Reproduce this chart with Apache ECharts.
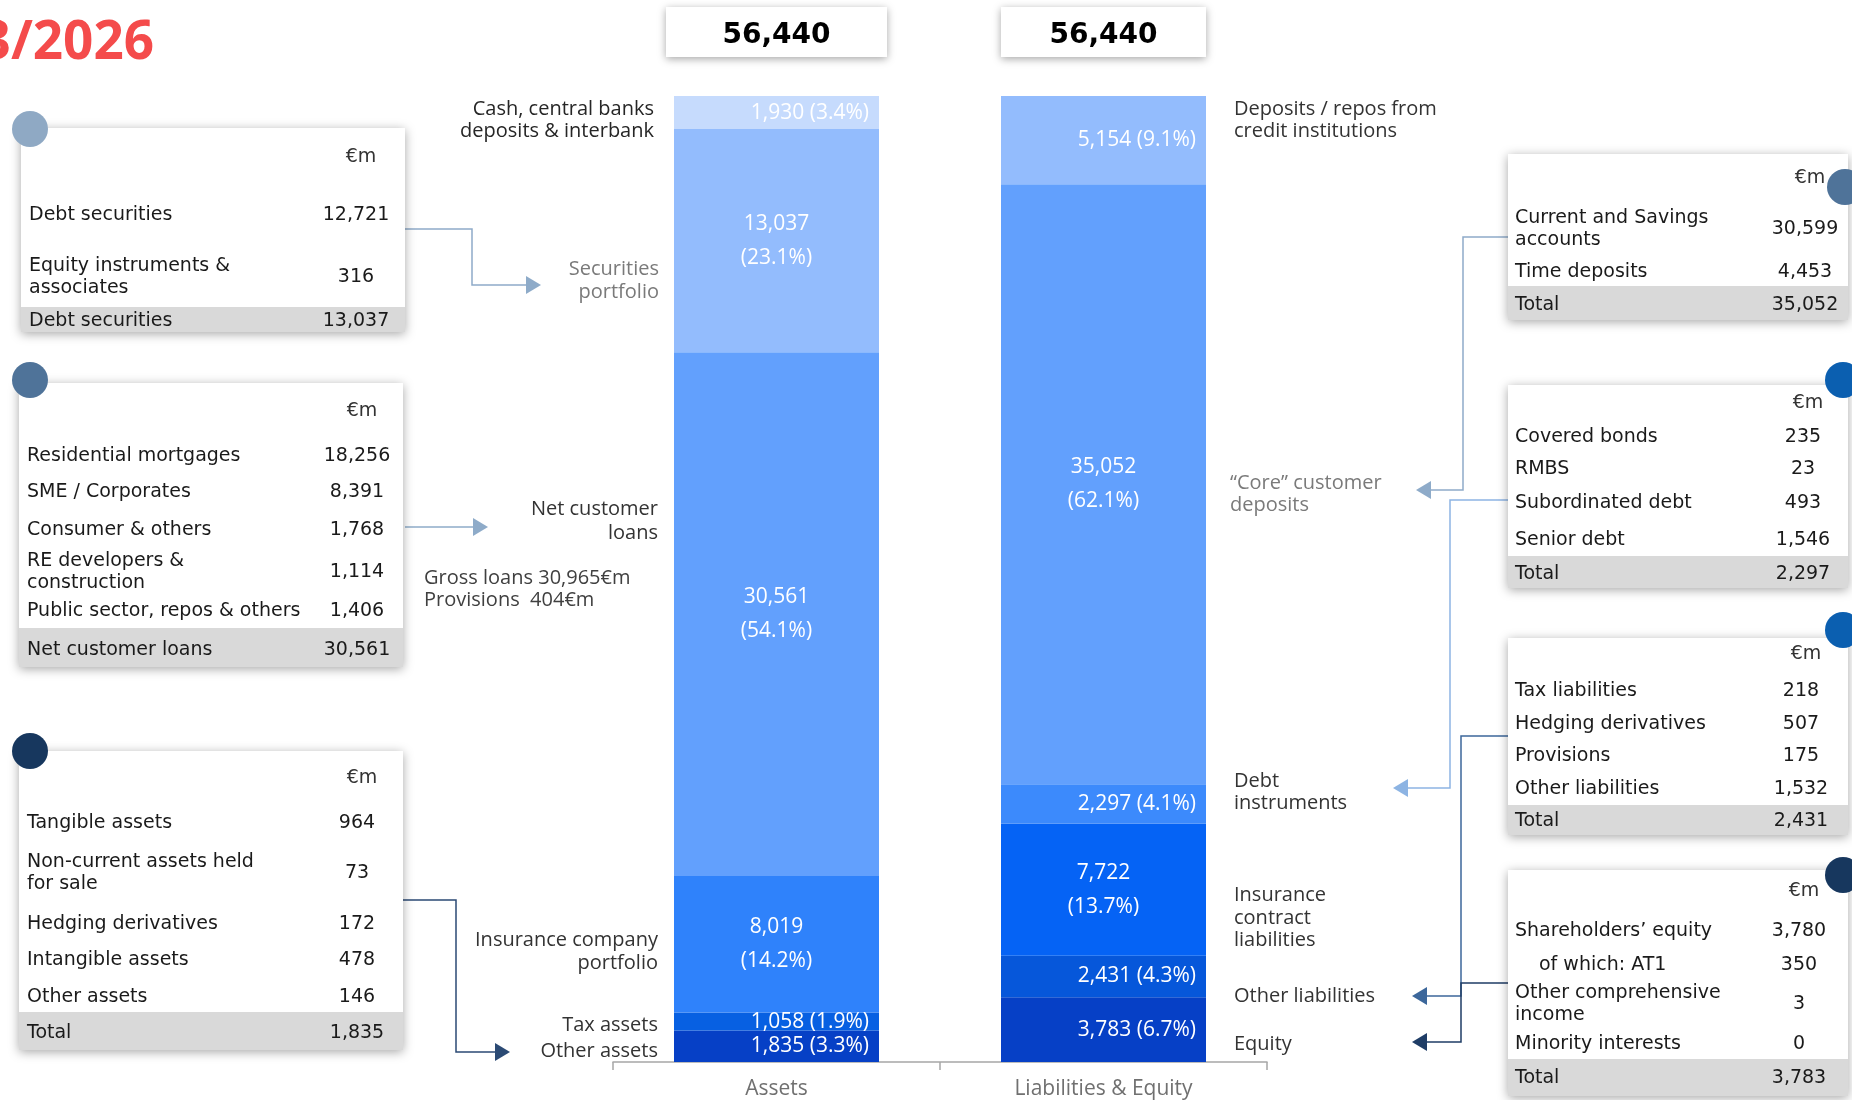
<!DOCTYPE html>
<html>
<head>
<meta charset="utf-8">
<script src="https://cdn.jsdelivr.net/npm/echarts@6/dist/echarts.min.js"></script>
<style>
  html, body { margin: 0; padding: 0; background: #fff; }
  #chart { width: 1852px; height: 1100px; }
</style>
</head>
<body>
<div id="chart"></div>
<script>
// --- data ---
const categories = ['Assets', 'Liabilities & Equity']
const totals = [56440, 56440]

const assetNames = ['Cash, central banks deposits & interbank', 'Securities portfolio', 'Net customer loans',
  'Insurance company portfolio', 'Tax assets', 'Other assets']
const assetValues = [1930, 13037, 30561, 8019, 1058, 1835]
const assetPct = ['3.4%', '23.1%', '54.1%', '14.2%', '1.9%', '3.3%']

const liabNames = ['Deposits / repos from credit institutions', '“Core” customer deposits', 'Debt instruments',
  'Insurance contract liabilities', 'Other liabilities', 'Equity']
const liabValues = [5154, 35052, 2297, 7722, 2431, 3783]
const liabPct = ['9.1%', '62.1%', '4.1%', '13.7%', '4.3%', '6.7%']

const secLabels = ['Debt securities', 'Equity instruments &\nassociates']
const secValues = [12721, 316]
const secTotal = ['Debt securities', 13037]

const loanLabels = ['Residential mortgages', 'SME / Corporates', 'Consumer & others', 'RE developers &\nconstruction', 'Public sector, repos & others']
const loanValues = [18256, 8391, 1768, 1114, 1406]
const loanTotal = ['Net customer loans', 30561]

const otherAssetLabels = ['Tangible assets', 'Non-current assets held\nfor sale', 'Hedging derivatives', 'Intangible assets', 'Other assets']
const otherAssetValues = [964, 73, 172, 478, 146]
const otherAssetTotal = ['Total', 1835]

const depositLabels = ['Current and Savings\naccounts', 'Time deposits']
const depositValues = [30599, 4453]
const depositTotal = ['Total', 35052]

const debtLabels = ['Covered bonds', 'RMBS', 'Subordinated debt', 'Senior debt']
const debtValues = [235, 23, 493, 1546]
const debtTotal = ['Total', 2297]

const otherLiabLabels = ['Tax liabilities', 'Hedging derivatives', 'Provisions', 'Other liabilities']
const otherLiabValues = [218, 507, 175, 1532]
const otherLiabTotal = ['Total', 2431]

const equityLabels = ['Shareholders’ equity', 'of which: AT1', 'Other comprehensive\nincome', 'Minority interests']
const equityValues = [3780, 350, 3, 0]
const equityTotal = ['Total', 3783]

// --- styles ---
const assetColors = ['#c6dbfd', '#93bcfd', '#62a0fd', '#2f82fb', '#0760e2', '#0640c6']
const liabColors = ['#93bcfd', '#62a0fd', '#3c8afc', '#0563f5', '#0657da', '#0640c6']
const SANS = '"Open Sans", sans-serif'
const TAB = '"DejaVu Sans", sans-serif'

const fmt = v => v.toLocaleString('en-US')

const segLabel = (v, pct) => {
  const base = { show: true, color: '#fff', fontSize: 21, fontFamily: SANS }
  if (v > 6000) {
    return { ...base, position: 'inside', lineHeight: 34, formatter: `${fmt(v)}\n(${pct})` }
  }
  return { ...base, position: 'insideRight', distance: 10, formatter: `${fmt(v)} (${pct})` }
}

// stack from the bottom up, so walk the arrays backwards
const series = []
for (let i = assetValues.length - 1; i >= 0; i--) {
  series.push({
    name: assetNames[i], type: 'bar', stack: 'bs', barWidth: 205,
    data: [assetValues[i], '-'],
    itemStyle: { color: assetColors[i] },
    label: segLabel(assetValues[i], assetPct[i]),
  })
}
for (let i = liabValues.length - 1; i >= 0; i--) {
  series.push({
    name: liabNames[i], type: 'bar', stack: 'bs', barWidth: 205,
    data: ['-', liabValues[i]],
    itemStyle: { color: liabColors[i] },
    label: segLabel(liabValues[i], liabPct[i]),
  })
}

const chart = echarts.init(document.getElementById('chart'))
chart.setOption({
  animation: false,
  backgroundColor: '#fff',
  grid: { left: 613, right: 585, top: 96, bottom: 36 },
  xAxis: {
    type: 'category',
    data: categories,
    axisLine: { lineStyle: { color: '#a6a6a6', width: 1.5 } },
    axisTick: { show: true, length: 8, lineStyle: { color: '#a6a6a6', width: 1.5 } },
    axisLabel: { color: '#707070', fontSize: 21, fontFamily: SANS, margin: 17 },
  },
  yAxis: { type: 'value', min: 0, max: totals[0], show: false },
  series,
})

// --- annotations ---
const txt = (x, y, text, o = {}) => ({
  type: 'text', x, y, z: o.z || 20,
  style: {
    text, fill: o.color || '#333', fontSize: o.size || 20, fontFamily: o.font || SANS,
    fontWeight: o.weight || 'normal', align: o.align || 'left', verticalAlign: 'middle',
    lineHeight: o.lh || 22,
  },
})

const TS = 19
const table = (t, labels, values, total) => {
  const els = []
  els.push({
    type: 'rect', z: 10, shape: { x: t.x, y: t.y, width: t.w, height: t.h },
    style: { fill: '#fff', shadowBlur: 10, shadowColor: 'rgba(0,0,0,0.35)', shadowOffsetY: 2 },
  })
  els.push({
    type: 'rect', z: 11, shape: { x: t.x, y: t.band, width: t.w, height: t.y + t.h - t.band },
    style: { fill: '#d9d9d9' },
  })
  els.push(txt(t.valX + 5, t.headY, '€m', { font: TAB, size: TS, align: 'center', color: '#333' }))
  labels.forEach((lab, i) => {
    const indent = lab.startsWith('of which') ? 24 : 0
    els.push(txt(t.textX + indent, t.rowY[i], lab, { font: TAB, size: TS, color: '#1a1a1a' }))
    els.push(txt(t.valX, t.rowY[i], fmt(values[i]), { font: TAB, size: TS, align: 'center', color: '#1a1a1a' }))
  })
  els.push(txt(t.textX, t.totalY, total[0], { font: TAB, size: TS, color: '#1a1a1a' }))
  els.push(txt(t.valX, t.totalY, fmt(total[1]), { font: TAB, size: TS, align: 'center', color: '#1a1a1a' }))
  els.push({ type: 'circle', z: 13, shape: { cx: t.cx, cy: t.cy, r: 18 }, style: { fill: t.dot } })
  return els
}

const arrow = (pts, color, dir) => {
  const [tx, ty] = pts[pts.length - 1]
  const d = dir === 'right' ? -1 : 1
  const head = [[tx, ty], [tx + d * 15, ty - 9], [tx + d * 15, ty + 9]]
  const line = pts.slice()
  line[line.length - 1] = [tx + d * 14, ty]
  return [
    { type: 'polyline', z: 9, shape: { points: line }, style: { stroke: color, lineWidth: 1.5, fill: null } },
    { type: 'polygon', z: 9, shape: { points: head }, style: { fill: color } },
  ]
}

const boxX = categories.map(c => chart.convertToPixel({ xAxisIndex: 0 }, c))
const totalBoxes = []
totals.forEach((v, i) => {
  const w = i === 0 ? 221 : 205
  totalBoxes.push({
    type: 'rect', z: 10, shape: { x: boxX[i] - w / 2, y: 7, width: w, height: 50 },
    style: { fill: '#fff', shadowBlur: 8, shadowColor: 'rgba(0,0,0,0.35)', shadowOffsetY: 2 },
  })
  totalBoxes.push(txt(boxX[i], 36, fmt(v), { font: TAB, size: 28, weight: 'bold', align: 'center', color: '#000' }))
})

const elements = [
  txt(154, 44, '31/03/2026', { size: 53, weight: 'bold', align: 'right', color: '#f44b4b', lh: 60 }),
  ...totalBoxes,

  // left side captions
  txt(654, 120, 'Cash, central banks\ndeposits & interbank', { align: 'right', color: '#262626', lh: 22 }),
  txt(659, 281, 'Securities\nportfolio', { align: 'right', color: '#7a7a7a', lh: 23 }),
  txt(658, 521, 'Net customer\nloans', { align: 'right', color: '#333', lh: 24 }),
  txt(424, 589, 'Gross loans 30,965€m\nProvisions  404€m', { color: '#404040', lh: 22 }),
  txt(658, 952, 'Insurance company\nportfolio', { align: 'right', color: '#333', lh: 23 }),
  txt(658, 1025, 'Tax assets', { align: 'right', color: '#333' }),
  txt(658, 1051, 'Other assets', { align: 'right', color: '#333' }),

  // right side captions
  txt(1234, 120, 'Deposits / repos from\ncredit institutions', { color: '#333', lh: 22 }),
  txt(1230, 494, '“Core” customer\ndeposits', { color: '#7a7a7a', lh: 22 }),
  txt(1234, 792, 'Debt\ninstruments', { color: '#333', lh: 22 }),
  txt(1234, 918, 'Insurance\ncontract\nliabilities', { color: '#333', lh: 22.5 }),
  txt(1234, 996, 'Other liabilities', { color: '#333' }),
  txt(1234, 1044, 'Equity', { color: '#333' }),

  // connectors
  ...arrow([[405, 229], [472, 229], [472, 285], [541, 285]], '#8eabc9', 'right'),
  ...arrow([[405, 527], [488, 527]], '#8eabc9', 'right'),
  ...arrow([[403, 900], [456, 900], [456, 1052], [510, 1052]], '#2b4a74', 'right'),
  ...arrow([[1508, 237], [1463, 237], [1463, 490], [1416, 490]], '#8eabc9', 'left'),
  ...arrow([[1508, 500], [1450, 500], [1450, 788], [1393, 788]], '#8db4e3', 'left'),
  ...arrow([[1508, 736], [1461, 736], [1461, 996], [1412, 996]], '#3c679b', 'left'),
  ...arrow([[1508, 983], [1461, 983], [1461, 1042], [1412, 1042]], '#1f3d66', 'left'),

  // detail tables
  ...table({ x: 21, y: 128, w: 384, h: 204, band: 307, cx: 30, cy: 129, dot: '#8fa9c4',
    headY: 157, textX: 29, valX: 356, rowY: [215, 277], totalY: 321 }, secLabels, secValues, secTotal),
  ...table({ x: 19, y: 383, w: 384, h: 284, band: 628, cx: 30, cy: 380, dot: '#4f7399',
    headY: 411, textX: 27, valX: 357, rowY: [456, 492, 530, 572, 611], totalY: 650 }, loanLabels, loanValues, loanTotal),
  ...table({ x: 19, y: 751, w: 384, h: 299, band: 1012, cx: 30, cy: 751, dot: '#17375e',
    headY: 778, textX: 27, valX: 357, rowY: [823, 873, 924, 960, 997], totalY: 1033 }, otherAssetLabels, otherAssetValues, otherAssetTotal),
  ...table({ x: 1508, y: 154, w: 340, h: 166, band: 286, cx: 1845, cy: 187, dot: '#4f7399',
    headY: 178, textX: 1515, valX: 1805, rowY: [229, 272], totalY: 305 }, depositLabels, depositValues, depositTotal),
  ...table({ x: 1508, y: 385, w: 340, h: 203, band: 556, cx: 1843, cy: 380, dot: '#0b5fb0',
    headY: 403, textX: 1515, valX: 1803, rowY: [437, 469, 503, 540], totalY: 574 }, debtLabels, debtValues, debtTotal),
  ...table({ x: 1508, y: 638, w: 340, h: 197, band: 805, cx: 1843, cy: 630, dot: '#0b5fb0',
    headY: 654, textX: 1515, valX: 1801, rowY: [691, 724, 756, 789], totalY: 821 }, otherLiabLabels, otherLiabValues, otherLiabTotal),
  ...table({ x: 1508, y: 870, w: 340, h: 226, band: 1059, cx: 1843, cy: 875, dot: '#17375e',
    headY: 891, textX: 1515, valX: 1799, rowY: [931, 965, 1004, 1044], totalY: 1078 }, equityLabels, equityValues, equityTotal),
]

chart.setOption({ graphic: { elements } })
</script>
</body>
</html>
